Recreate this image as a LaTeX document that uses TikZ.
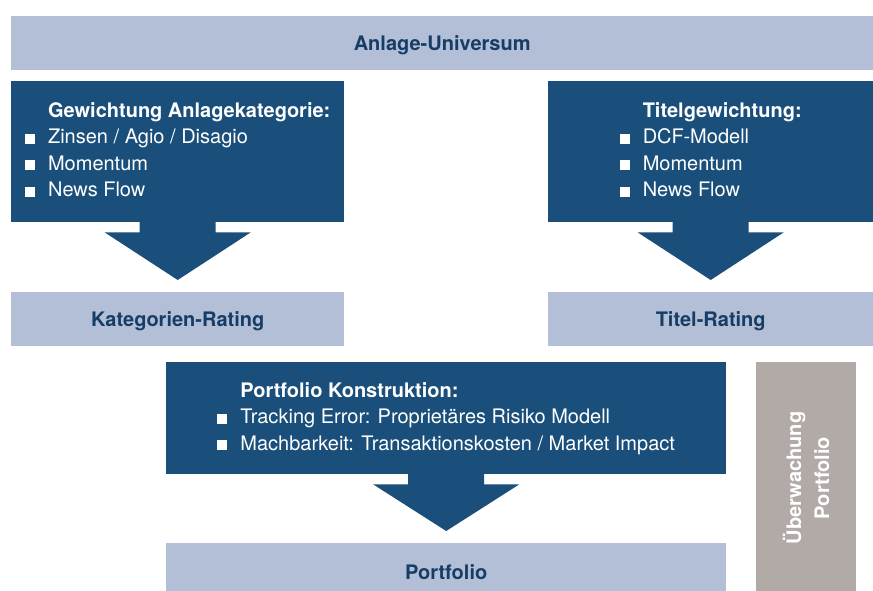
\documentclass[tikz,border=0pt]{standalone}
\usepackage{fontspec}
\setmainfont{TeX Gyre Heros}
\usetikzlibrary{calc,positioning}

\definecolor{lightbox}{HTML}{B3BFD6}
\definecolor{darkbox}{HTML}{1A4F7B}
\definecolor{greybox}{HTML}{B2AAA7}
\definecolor{navytext}{HTML}{173D66}

% small white square used as list bullet
\newcommand{\sqitem}{\textcolor{white}{\rule{10pt}{10pt}}}

\begin{document}
\begin{tikzpicture}[x=1pt, y=-1pt,
  ratingbox/.style={fill=lightbox, text=navytext, inner sep=0pt,
    anchor=north west, text height=14pt, text depth=0pt,
    font=\fontsize{20}{24}\selectfont\bfseries},
  stepbox/.style={fill=darkbox, text=white, inner sep=0pt,
    anchor=north west, font=\fontsize{20}{26.5}\selectfont},
  watchbox/.style={fill=greybox, text=white, inner sep=0pt, align=center,
    font=\fontsize{20}{28}\selectfont\bfseries}]

\useasboundingbox (0,0) rectangle (873,590);

% ---------------------------------------------------------
% top row: universe
% ---------------------------------------------------------
\node[ratingbox, minimum width=862pt, minimum height=54pt] (univ) at (11,16)
  {Anlage-Universum};

% ---------------------------------------------------------
% two weighting steps with their ratings
% ---------------------------------------------------------
\node[stepbox, minimum width=333pt, minimum height=141pt] (gew) at (11,81) {%
  \begin{tabular}{@{}l@{\hspace{13pt}}l@{}}
           & \textbf{Gewichtung Anlagekategorie:}\\
  \sqitem & Zinsen / Agio / Disagio\\
  \sqitem & Momentum\\
  \sqitem & News Flow
  \end{tabular}};

\node[stepbox, minimum width=325pt, minimum height=141pt] (titel) at (548,81) {%
  \begin{tabular}{@{}l@{\hspace{13pt}}l@{}}
           & \textbf{Titelgewichtung:}\\
  \sqitem & DCF-Modell\\
  \sqitem & Momentum\\
  \sqitem & News Flow
  \end{tabular}};

\node[ratingbox, minimum width=333pt, minimum height=54pt] (katrat) at (11,292)
  {Kategorien-Rating};
\node[ratingbox, minimum width=325pt, minimum height=54pt] (titrat) at (548,292)
  {Titel-Rating};

% ---------------------------------------------------------
% construction and resulting portfolio
% ---------------------------------------------------------
\node[stepbox, minimum width=560pt, minimum height=112pt] (konstr) at (166,362) {%
  \begin{tabular}{@{}l@{\hspace{13pt}}l@{}}
           & \textbf{Portfolio Konstruktion:}\\
  \sqitem & Tracking Error: Proprietäres Risiko Modell\\
  \sqitem & Machbarkeit: Transaktionskosten / Market Impact
  \end{tabular}};

% runs past the lower page edge
\node[ratingbox, minimum width=560pt, minimum height=58pt] (portf) at (166,543)
  {Portfolio};

% monitoring bar, text reads bottom to top
\node[watchbox, rotate=90, minimum width=232pt, minimum height=100pt] (watch)
  at (806,478) {Überwachung\\Portfolio};

% block arrows from each step down to its result
\foreach \src/\dst in {gew/katrat, titel/titrat, konstr/portf}{
  \fill[darkbox]
    ($(\src.south)+(-38,-1)$) -- ($(\src.south)+(-38,10)$)
    -- ($(\src.south)+(-73,10)$) -- ($(\dst.north)+(0,-12)$)
    -- ($(\src.south)+(73,10)$) -- ($(\src.south)+(38,10)$)
    -- ($(\src.south)+(38,-1)$) -- cycle;
}

\end{tikzpicture}
\end{document}
